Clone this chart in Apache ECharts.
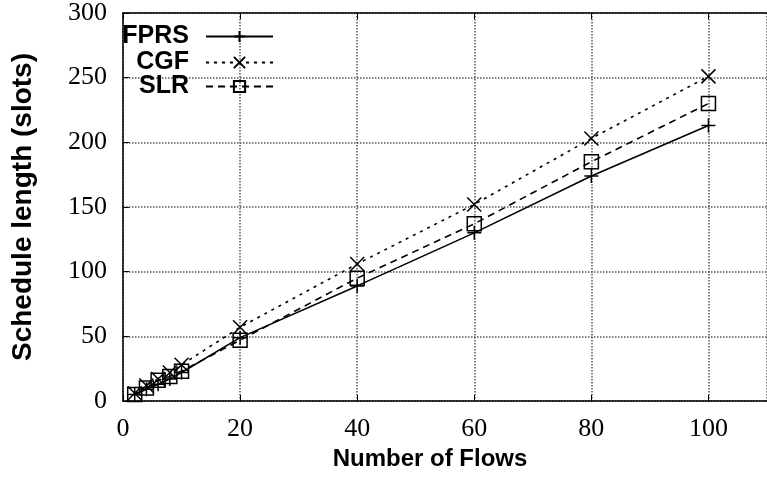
<!DOCTYPE html>
<html>
<head>
<meta charset="utf-8">
<script src="https://cdn.jsdelivr.net/npm/echarts@6/dist/echarts.min.js"></script>
<style>html,body{margin:0;padding:0;background:#fff;}#c{width:767px;height:479px;}</style>
</head>
<body>
<div id="c"></div>
<script>
const flows = [2, 4, 6, 8, 10, 20, 40, 60, 80, 100];
const fprs = [5, 9, 13, 17, 22, 49, 89, 130, 174, 213];
const cgf  = [6, 12, 17, 22, 28, 57, 106, 152, 203, 251];
const slr  = [5, 10, 16, 19, 23, 47, 95, 137, 185, 230];
const seriesNames = ['FPRS', 'CGF', 'SLR'];

const PLUS = 'path://M0,7L14,7M7,0L7,14';
const CROSS = 'path://M0,0L14,14M14,0L0,14';
const SQUARE = 'path://M0,0L14,0L14,14L0,14Z';

function pairs(ys) { return flows.map((x, i) => [x, ys[i]]); }

const serifLabel = { fontFamily: 'Liberation Serif', fontSize: 26, color: '#000' };
const boldTitle = { fontFamily: 'Liberation Sans', fontWeight: 'bold', fontSize: 24, color: '#000' };
function gridLine() { return { show: true, lineStyle: { color: '#555', type: 'dotted', width: 1.5 } }; }

function mkSeries(name, data, symbol, dash) {
  return {
    name: name, type: 'line', xAxisIndex: 0, yAxisIndex: 0,
    data: pairs(data), symbol: symbol, symbolSize: 14, showSymbol: true,
    lineStyle: { color: '#000', width: 1.6, type: dash },
    itemStyle: { color: 'transparent', borderColor: '#000', borderWidth: 1.5 },
    animation: false, z: 3
  };
}

function mkLegend(name, top) {
  return {
    data: [name], right: 493, top: top, orient: 'horizontal', align: 'right',
    padding: 0, itemWidth: 67, itemHeight: 14, selectedMode: false,
    textStyle: { fontFamily: 'Liberation Sans', fontWeight: 'bold', fontSize: 25, color: '#000', padding: [0, 12, 0, 0] }
  };
}

const chart = echarts.init(document.getElementById('c'), null, { renderer: 'canvas' });
chart.setOption({
  backgroundColor: '#fff',
  animation: false,
  grid: { left: 123, top: 13, bottom: 78, right: 0, outerBoundsMode: 'none' },
  legend: [mkLegend(seriesNames[0], 24), mkLegend(seriesNames[1], 50), mkLegend(seriesNames[2], 74)],
  xAxis: [{
    type: 'value', min: 0, max: 110, interval: 20, position: 'bottom',
    name: 'Number of Flows', nameLocation: 'middle', nameGap: 46,
    nameTextStyle: Object.assign({}, boldTitle, { padding: [0, 30, 0, 0] }),
    axisLine: { show: true, lineStyle: { color: '#000', width: 1.5 } },
    axisTick: { show: true, inside: true, length: 6 },
    axisLabel: Object.assign({ margin: 15, formatter: function (v) { return v % 20 === 0 ? String(v) : ''; } }, serifLabel),
    splitLine: gridLine()
  }, {
    type: 'value', min: 0, max: 110, interval: 20, position: 'top',
    axisLine: { show: true, onZero: false, lineStyle: { color: '#000', width: 1.5 } },
    axisTick: { show: true, inside: true, length: 6 },
    axisLabel: { show: false }, splitLine: { show: false }
  }],
  yAxis: [{
    type: 'value', min: 0, max: 300, interval: 50,
    name: 'Schedule length (slots)', nameLocation: 'middle', nameGap: 86,
    nameTextStyle: Object.assign({}, boldTitle, { fontSize: 28 }),
    axisLine: { show: true, lineStyle: { color: '#000', width: 1.5 } },
    axisTick: { show: true, inside: true, length: 6 },
    axisLabel: Object.assign({ margin: 16 }, serifLabel),
    splitLine: gridLine()
  }],
  series: [
    mkSeries(seriesNames[0], fprs, PLUS, 'solid'),
    mkSeries(seriesNames[1], cgf, CROSS, [3, 5]),
    mkSeries(seriesNames[2], slr, SQUARE, [7, 5])
  ]
});
</script>
</body>
</html>
